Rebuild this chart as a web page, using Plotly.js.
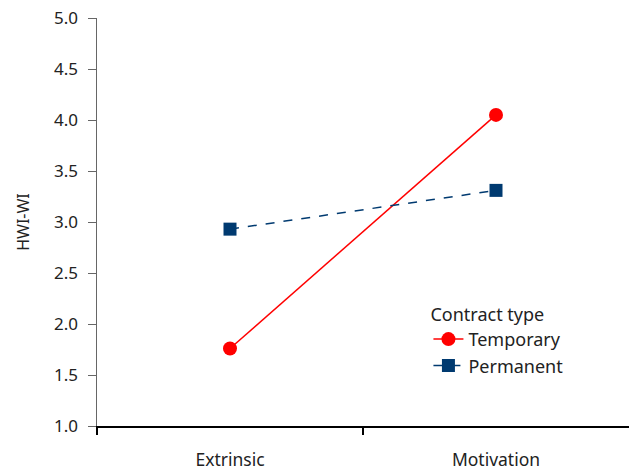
<!DOCTYPE html>
<html>
<head>
<meta charset="utf-8">
<script src="https://cdn.plot.ly/plotly-3.0.1.min.js"></script>
<style>html,body{margin:0;padding:0;background:#fff;}#chart{width:637px;height:471px;}</style>
</head>
<body>
<div id="chart"></div>
<script>
const categories = ["Extrinsic", "Motivation"];
const temporary = [1.76, 4.05];
const permanent = [2.93, 3.31];
const yTicks = [1.0, 1.5, 2.0, 2.5, 3.0, 3.5, 4.0, 4.5, 5.0];

const xIdx = categories.map((c, i) => i);
const font = "Noto Sans, sans-serif";

const data = [
  {
    x: xIdx, y: temporary, name: "Temporary", type: "scatter", mode: "lines+markers",
    line: {color: "#ff0000", width: 1.5},
    marker: {symbol: "circle", size: 14, color: "#ff0000"}
  },
  {
    x: xIdx, y: permanent, name: "Permanent", type: "scatter", mode: "lines+markers",
    line: {color: "#003a70", width: 1.5, dash: "dash"},
    marker: {symbol: "square", size: 13, color: "#003a70"}
  }
];

const layout = {
  width: 637, height: 471,
  margin: {l: 97, r: 8, t: 18, b: 45},
  paper_bgcolor: "#fff", plot_bgcolor: "#fff",
  font: {family: font, size: 17, color: "#222"},
  showlegend: true,
  legend: {
    x: 0.623, y: 0.315, xanchor: "left", yanchor: "top",
    title: {text: "Contract type", font: {size: 18, color: "#222"}},
    font: {size: 18, color: "#222"},
    bgcolor: "rgba(0,0,0,0)", tracegroupgap: 0, itemwidth: 30
  },
  xaxis: {
    range: [-0.5, 1.5],
    tickvals: xIdx, ticktext: categories,
    ticks: "", showgrid: false, zeroline: false,
    showline: true, linecolor: "#000", linewidth: 1.5,
    ticklabelstandoff: 17,
    tickfont: {size: 17.5, color: "#222"},
    minor: {tickvals: [-0.5, 0.5], ticks: "outside", ticklen: 7, tickcolor: "#000", tickwidth: 1.5, showgrid: false}
  },
  yaxis: {
    range: [1, 5],
    tickvals: yTicks, ticktext: yTicks.map(v => v.toFixed(1)),
    ticks: "outside", ticklen: 8, tickcolor: "#666", tickwidth: 1,
    ticklabelstandoff: 6,
    showgrid: false, zeroline: false,
    showline: true, linecolor: "#666", linewidth: 1.5,
    tickfont: {size: 17, color: "#222"},
    title: {text: "HWI-WI", font: {size: 16, color: "#222"}, standoff: 20}
  }
};

Plotly.newPlot("chart", data, layout, {displayModeBar: false, staticPlot: true});
</script>
</body>
</html>
